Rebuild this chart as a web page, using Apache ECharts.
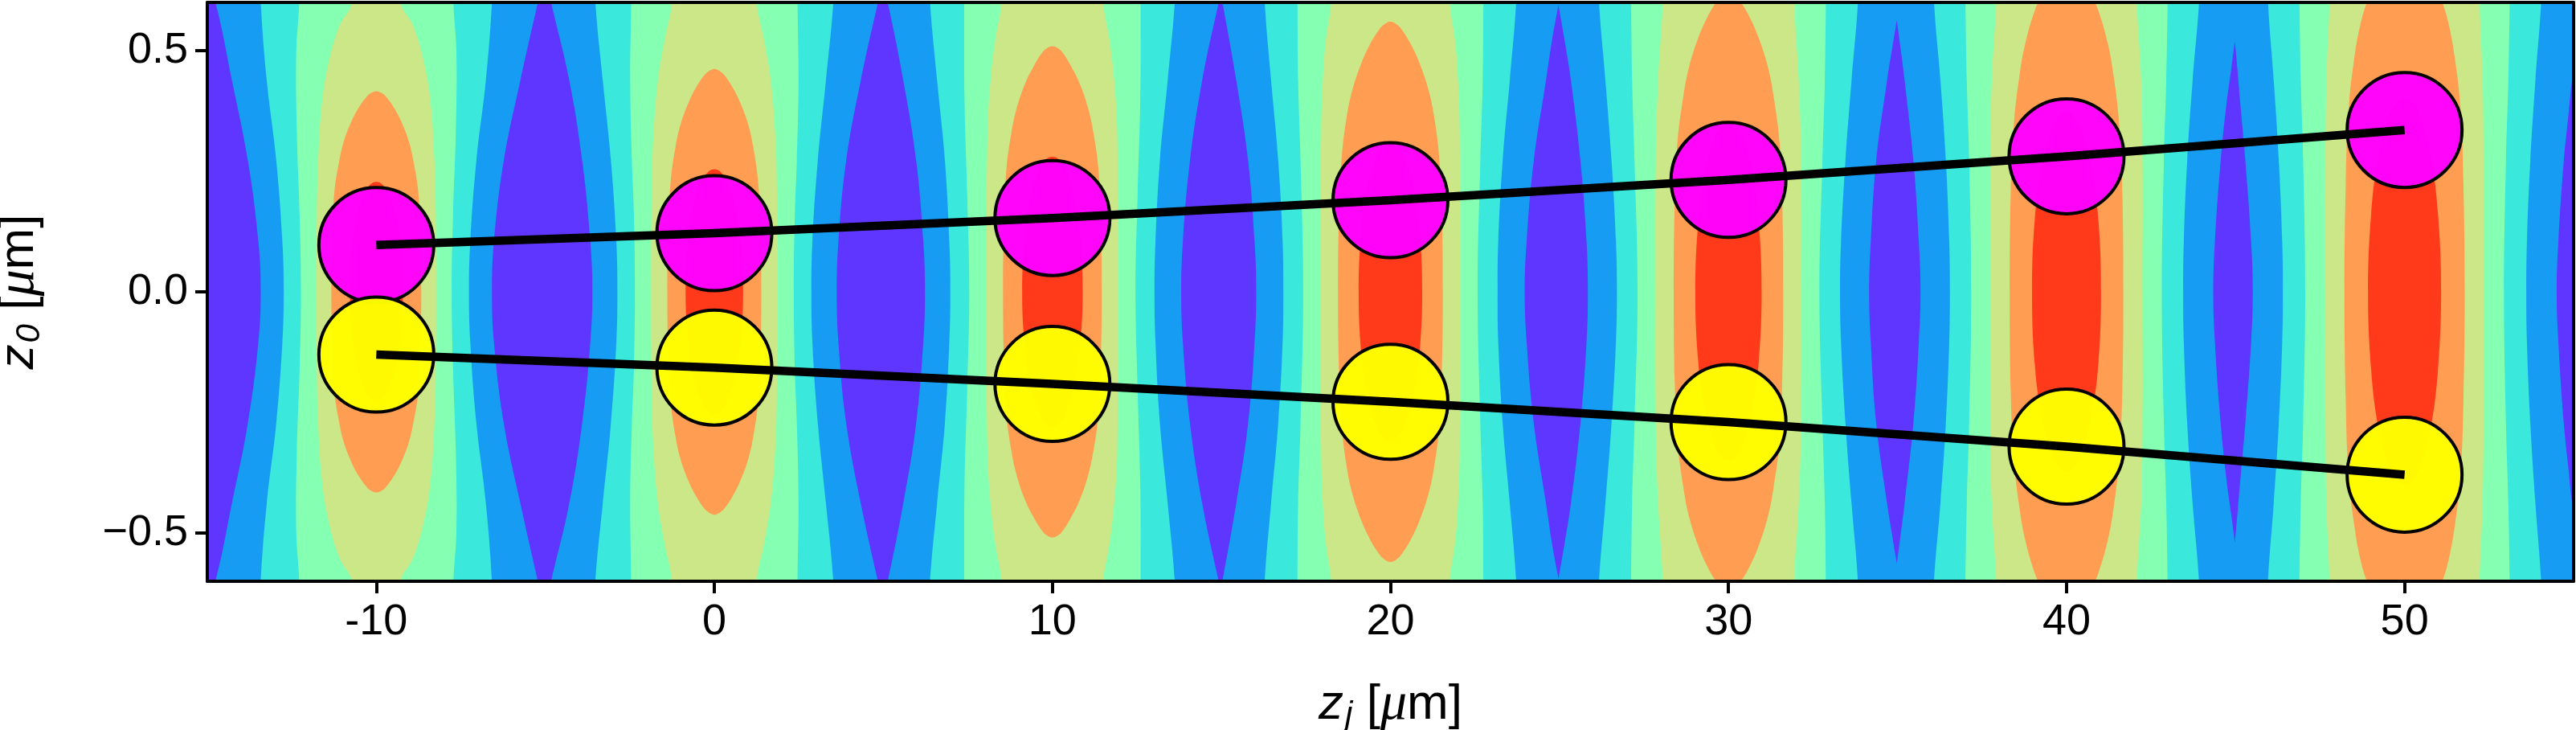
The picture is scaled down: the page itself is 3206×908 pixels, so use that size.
<!DOCTYPE html>
<html>
<head>
<meta charset="utf-8">
<title>z0 vs zj</title>
<script src="https://cdn.jsdelivr.net/npm/echarts@6/dist/echarts.min.js"></script>
<style>
  html, body { margin: 0; padding: 0; background: #fff; }
  #main { width: 3206px; height: 908px; }
</style>
</head>
<body>
<div id="main"></div>
<script>
// positions of the columns along z_j
var peaks = [-10, 0, 10, 20, 30, 40, 50];
var xTicks = [-10, 0, 10, 20, 30, 40, 50];
var yTicks = [-0.5, 0, 0.5];

// the two rows of circles, z0 for each column
var upperZ0 = [0.097, 0.1215, 0.153, 0.19, 0.232, 0.281, 0.3355];
var lowerZ0 = [-0.13, -0.157, -0.191, -0.228, -0.27, -0.321, -0.379];

// contour outlines, one list per column, pairs of [|z0|, half width in um around the column]
// the map is mirrored around z0 = 0
var redHalf = [
  [[0, .78], [.09, .72], [.16, .56], [.2, .37], [.221, .2], [.228, 0]],
  [[0, .85], [.10, .78], [.18, .61], [.224, .40], [.246, .22], [.254, 0]],
  [[0, .895], [.11, .82], [.196, .64], [.246, .42], [.272, .23], [.28, 0]],
  [[0, .94], [.124, .865], [.217, .68], [.273, .44], [.30, .24], [.31, 0]],
  [[0, .98], [.14, .90], [.245, .71], [.308, .46], [.34, .25], [.35, 0]],
  [[0, 1.02], [.15, .94], [.26, .73], [.327, .48], [.36, .26], [.372, 0]],
  [[0, 1.08], [.16, .99], [.28, .78], [.352, .51], [.388, .28], [.40, 0]]
];
var orangeHalf = [
  [[0, 1.33], [.125, 1.30], [.208, 1.24], [.27, 1.10], [.312, .96], [.354, .73], [.383, .51], [.404, .29], [.412, .16], [.416, 0]],
  [[0, 1.39], [.139, 1.36], [.231, 1.29], [.30, 1.15], [.347, 1.0], [.393, .76], [.425, .53], [.448, .31], [.457, .17], [.462, 0]],
  [[0, 1.46], [.153, 1.43], [.255, 1.36], [.331, 1.21], [.382, 1.05], [.433, .80], [.468, .55], [.494, .32], [.504, .18], [.509, 0]],
  [[0, 1.55], [.168, 1.52], [.28, 1.44], [.364, 1.29], [.42, 1.12], [.476, .85], [.515, .59], [.543, .34], [.554, .19], [.56, 0]],
  [[0, 1.62], [.186, 1.59], [.31, 1.51], [.403, 1.34], [.465, 1.17], [.527, .89], [.57, .62], [.601, .36], [.614, .19], [.62, 0]],
  [[0, 1.68], [.207, 1.65], [.345, 1.56], [.449, 1.39], [.518, 1.21], [.587, .92], [.635, .64]],
  [[0, 1.78], [.225, 1.74], [.375, 1.66], [.488, 1.48], [.5625, 1.28], [.6375, .98]]
];
var khakiHalf = [
  [[0, 1.77], [.16, 1.76], [.272, 1.72], [.383, 1.62], [.466, 1.44], [.55, 1.10], [.6, .71]],
  [[0, 1.87], [.216, 1.85], [.327, 1.80], [.438, 1.67], [.522, 1.47], [.6, 1.25]],
  [[0, 1.95], [.327, 1.92], [.438, 1.83], [.522, 1.69], [.6, 1.50]],
  [[0, 2.07], [.327, 2.05], [.438, 2.0], [.522, 1.91], [.6, 1.75]],
  [[0, 2.16], [.272, 2.15], [.438, 2.08], [.6, 1.94]],
  [[0, 2.25], [.272, 2.25], [.438, 2.21], [.6, 2.08]],
  [[0, 2.34], [.272, 2.34], [.438, 2.31], [.6, 2.22]]
];
var greenHalf = [
  [[0, 2.23], [.16, 2.27], [.327, 2.35], [.494, 2.37], [.6, 2.28]],
  [[0, 2.35], [.16, 2.38], [.272, 2.44], [.438, 2.49], [.6, 2.46]],
  [[0, 2.46], [.2, 2.52], [.4, 2.6], [.6, 2.61]],
  [[0, 2.58], [.272, 2.66], [.438, 2.73], [.6, 2.75]],
  [[0, 2.69], [.272, 2.78], [.438, 2.85], [.6, 2.88]],
  [[0, 2.82], [.272, 2.88], [.438, 2.95], [.6, 2.99]],
  [[0, 2.94], [.272, 3.0], [.438, 3.07], [.6, 3.11]]
];
var cyanHalf = [
  [[0, 2.74], [.105, 2.78], [.272, 2.96], [.438, 3.24], [.6, 3.42]],
  [[0, 2.87], [.105, 2.90], [.272, 3.06], [.438, 3.30], [.6, 3.52]],
  [[0, 3.02], [.105, 3.05], [.272, 3.18], [.438, 3.41], [.6, 3.62]],
  [[0, 3.17], [.105, 3.19], [.272, 3.32], [.438, 3.53], [.6, 3.72]],
  [[0, 3.30], [.105, 3.33], [.272, 3.46], [.438, 3.64], [.6, 3.83]],
  [[0, 3.45], [.105, 3.47], [.272, 3.57], [.438, 3.73], [.6, 3.92]],
  [[0, 3.60], [.105, 3.62], [.272, 3.72], [.438, 3.87], [.6, 4.04]]
];

// purple lenses between the columns, rows of [|z0|, left zj, right zj]
var purpleLenses = [
  [[0, -18, -13.42], [.105, -18, -13.49], [.272, -18, -13.80], [.438, -18, -14.27], [.6, -18, -14.76], [.66, -18, -15.1]],
  [[0, -6.58, -3.61], [.105, -6.52, -3.67], [.272, -6.23, -3.91], [.438, -5.74, -4.29], [.6, -5.22, -4.83], [.66, -5.02, -5.02]],
  [[0, 3.62, 6.23], [.105, 3.67, 6.18], [.272, 3.90, 5.97], [.438, 4.33, 5.59], [.6, 4.84, 5.13], [.64, 4.98, 4.98]],
  [[0, 13.81, 16.03], [.105, 13.86, 15.98], [.272, 14.07, 15.79], [.438, 14.43, 15.44], [.6, 14.92, 15.03], [.615, 14.98, 14.98]],
  [[0, 23.97, 25.84], [.105, 24.03, 25.80], [.272, 24.24, 25.62], [.438, 24.60, 25.34], [.522, 24.78, 25.15], [.595, 24.97, 24.97]],
  [[0, 34.16, 35.68], [.105, 34.21, 35.63], [.272, 34.37, 35.47], [.438, 34.69, 35.21], [.5, 34.83, 35.10], [.563, 34.98, 34.98]],
  [[0, 44.34, 45.51], [.105, 44.39, 45.46], [.272, 44.56, 45.29], [.383, 44.72, 45.15], [.466, 44.88, 45.05], [.52, 44.98, 44.98]],
  [[0, 54.50, 58], [.105, 54.55, 58], [.272, 54.71, 58], [.355, 54.83, 58], [.449, 54.98, 58], [.52, 55.2, 58]]
];

var colors = {
  blue: '#169df3',
  purple: '#5f36ff',
  cyan: '#3ae8dc',
  green: '#85ffb2',
  khaki: '#cbe788',
  orange: '#ff9d52',
  red: '#ff3a1a'
};

// outline of one column's contour, going around through both halves
function contourOutline(peak, half) {
  var rows = half.slice();
  var last = rows[rows.length - 1];
  // open contours run on past the frame, the grid clips them
  if (last[1] > 0) rows.push([last[0] + 0.06, last[1]]);
  var pts = [];
  var i;
  for (i = rows.length - 1; i >= 0; i--) pts.push([peak + rows[i][1], rows[i][0]]);
  for (i = 1; i < rows.length; i++) pts.push([peak + rows[i][1], -rows[i][0]]);
  for (i = rows.length - 1; i >= 0; i--) {
    if (rows[i][1] > 0) pts.push([peak - rows[i][1], -rows[i][0]]);
  }
  for (i = 1; i < rows.length; i++) {
    if (rows[i][1] > 0) pts.push([peak - rows[i][1], rows[i][0]]);
  }
  return pts;
}

function lensOutline(rows) {
  var pts = [];
  var i;
  for (i = rows.length - 1; i >= 0; i--) pts.push([rows[i][2], rows[i][0]]);
  for (i = 1; i < rows.length; i++) pts.push([rows[i][2], -rows[i][0]]);
  for (i = rows.length - 1; i >= 1; i--) pts.push([rows[i][1], -rows[i][0]]);
  for (i = 0; i < rows.length; i++) pts.push([rows[i][1], rows[i][0]]);
  return pts;
}

function polygonSeries(name, color, outlines, smooth) {
  return {
    name: name,
    type: 'custom',
    coordinateSystem: 'cartesian2d',
    clip: true,
    silent: true,
    data: outlines.map(function (o, i) { return [o[0][0], o[0][1], i]; }),
    renderItem: function (params, api) {
      return {
        type: 'polygon',
        shape: {
          points: outlines[params.dataIndex].map(function (p) { return api.coord(p); }),
          smooth: smooth
        },
        style: { fill: color, stroke: null }
      };
    }
  };
}

function bandSeries(name, color, halves) {
  var outlines = halves.map(function (half, i) { return contourOutline(peaks[i], half); });
  return polygonSeries(name, color, outlines, 0.4);
}

function pairs(values) {
  return peaks.map(function (p, i) { return [p, values[i]]; });
}

function circles(name, values, fill) {
  return {
    name: name,
    type: 'scatter',
    data: pairs(values),
    symbol: 'circle',
    symbolSize: 143,
    silent: true,
    clip: false,
    itemStyle: { color: fill, borderColor: '#000', borderWidth: 4, opacity: 1 }
  };
}

function fitLine(name, values) {
  return {
    name: name,
    type: 'line',
    data: pairs(values),
    showSymbol: false,
    silent: true,
    clip: false,
    lineStyle: { color: '#000', width: 10.5, cap: 'butt', join: 'round' }
  };
}

var labelFont = 'Liberation Sans';
var nameRich = {
  a: { fontFamily: labelFont, fontSize: 62, fontStyle: 'italic', color: '#000' },
  s: { fontFamily: labelFont, fontSize: 42, fontStyle: 'italic', color: '#000', padding: [26, 0, 0, 2] },
  b: { fontFamily: labelFont, fontSize: 62, color: '#000' },
  m: { fontFamily: 'Liberation Serif', fontSize: 66, fontStyle: 'italic', color: '#000' }
};

var myChart = echarts.init(document.getElementById('main'), null, { renderer: 'canvas', devicePixelRatio: 1 });
myChart.setOption({
  animation: false,
  backgroundColor: '#fff',
  grid: {
    left: 258, right: 3, top: 3, bottom: 185,
    outerBoundsMode: 'none',
    show: true, backgroundColor: colors.blue, borderWidth: 0
  },
  xAxis: [
    {
      type: 'value', min: -15, max: 55, z: 10,
      splitLine: { show: false },
      axisLine: { show: true, onZero: false, lineStyle: { color: '#000', width: 4 } },
      axisTick: { show: true, length: 15, customValues: xTicks, lineStyle: { color: '#000', width: 4 } },
      axisLabel: {
        show: true, customValues: xTicks, margin: 24, color: '#000',
        fontFamily: labelFont, fontSize: 54,
        formatter: function (v) { return String(v); }
      },
      name: '{a|z}{s|j}{b| [}{m|μ}{b|m]}',
      nameLocation: 'middle', nameGap: 120,
      nameTextStyle: { rich: nameRich }
    },
    {
      type: 'value', min: -15, max: 55, position: 'top', z: 10,
      splitLine: { show: false }, axisTick: { show: false }, axisLabel: { show: false },
      axisLine: { show: true, onZero: false, lineStyle: { color: '#000', width: 4 } }
    }
  ],
  yAxis: [
    {
      type: 'value', min: -0.6, max: 0.6, z: 10,
      splitLine: { show: false },
      axisLine: { show: true, onZero: false, lineStyle: { color: '#000', width: 4 } },
      axisTick: { show: true, length: 15, customValues: yTicks, lineStyle: { color: '#000', width: 4 } },
      axisLabel: {
        show: true, customValues: yTicks, margin: 24, color: '#000',
        fontFamily: labelFont, fontSize: 54,
        formatter: function (v) { return v.toFixed(1).replace('-', '\u2212'); }
      },
      name: '{a|z}{s|0}{b| [}{m|μ}{b|m]}',
      nameLocation: 'middle', nameGap: 200, nameRotate: 90,
      nameTextStyle: { rich: nameRich }
    },
    {
      type: 'value', min: -0.6, max: 0.6, position: 'right', z: 10,
      splitLine: { show: false }, axisTick: { show: false }, axisLabel: { show: false },
      axisLine: { show: true, onZero: false, lineStyle: { color: '#000', width: 4 } }
    }
  ],
  series: [
    polygonSeries('purple', colors.purple, purpleLenses.map(lensOutline), 0.4),
    bandSeries('cyan', colors.cyan, cyanHalf),
    bandSeries('green', colors.green, greenHalf),
    bandSeries('khaki', colors.khaki, khakiHalf),
    bandSeries('orange', colors.orange, orangeHalf),
    bandSeries('red', colors.red, redHalf),
    circles('upper', upperZ0, 'rgba(255,0,255,0.97)'),
    fitLine('upper line', upperZ0),
    circles('lower', lowerZ0, 'rgba(255,255,0,0.97)'),
    fitLine('lower line', lowerZ0)
  ]
});
</script>
</body>
</html>
